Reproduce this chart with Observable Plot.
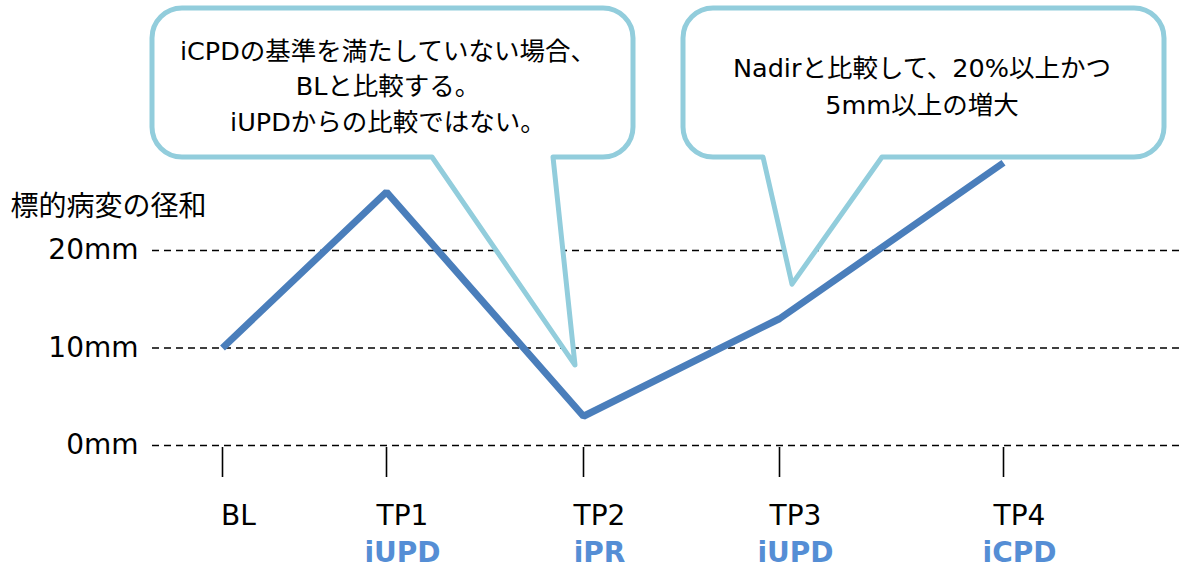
<!DOCTYPE html>
<html>
<head>
<meta charset="utf-8">
<script src="https://cdn.jsdelivr.net/npm/d3@7"></script>
<script src="https://cdn.jsdelivr.net/npm/@observablehq/plot@0.6"></script>
<style>
html, body { margin: 0; padding: 0; background: #fff; overflow: hidden; }
#chart svg { display: block; }
</style>
</head>
<body>
<div id="chart"></div>
<script>
// ---- data ----
const timepoints = ["BL", "TP1", "TP2", "TP3", "TP4"];
const responses = ["", "iUPD", "iPR", "iUPD", "iCPD"];
const sumDiameters = [10, 26, 3, 13, 29];
const yTicks = [0, 10, 20];
const yTickLabels = ["0mm", "10mm", "20mm"];
const yTitle = "標的病変の径和";
const calloutBaselineLines = ["iCPDの基準を満たしていない場合、", "BLと比較する。", "iUPDからの比較ではない。"];
const calloutNadirLines = ["Nadirと比較して、20%以上かつ", "5mm以上の増大"];

// ---- style / layout ----
const FONT = '"DejaVu Sans", "Noto Sans CJK JP", sans-serif';
const LINE_COLOR = "#4A7EBB";
const CALLOUT_COLOR = "#92CDDC";
const RESPONSE_COLOR = "#558ED5";

const callouts = [
  {lines: calloutBaselineLines, box: [152, 8, 633, 157], base: [432, 553], radius: 30,
   anchor: "TP2", tipDx: -8, tipValue: 8.2, cx: 388, cy0: 51, gap: 35.5},
  {lines: calloutNadirLines, box: [683, 8, 1164, 157], base: [763, 882], radius: 30,
   anchor: "TP3", tipDx: 13, tipValue: 16.5, cx: 922, cy0: 68, gap: 37}
];

const data = timepoints.map((t, i) => ({i, t, r: responses[i], v: sumDiameters[i]}));

function drawCallouts(index, scales) {
  const g = d3.create("svg:g");
  for (const c of callouts) {
    const [x0, y0, x1, y1] = c.box;
    const r = c.radius;
    const tx = scales.x(timepoints.indexOf(c.anchor)) + c.tipDx;
    const ty = scales.y(c.tipValue);
    const d = `M${x0 + r},${y0}H${x1 - r}A${r},${r} 0 0 1 ${x1},${y0 + r}V${y1 - r}` +
      `A${r},${r} 0 0 1 ${x1 - r},${y1}H${c.base[1]}L${tx},${ty}L${c.base[0]},${y1}H${x0 + r}` +
      `A${r},${r} 0 0 1 ${x0},${y1 - r}V${y0 + r}A${r},${r} 0 0 1 ${x0 + r},${y0}Z`;
    g.append("path").attr("d", d).attr("fill", "#fff").attr("stroke", CALLOUT_COLOR)
      .attr("stroke-width", 5).attr("stroke-linejoin", "round");
    const t = g.append("text").attr("text-anchor", "middle").attr("font-size", 25.5)
      .attr("fill", "#000").attr("font-family", FONT);
    c.lines.forEach((line, k) => {
      t.append("tspan").attr("x", c.cx).attr("y", c.cy0 + k * c.gap).attr("dy", "0.35em").text(line);
    });
  }
  return g.node();
}

const chart = Plot.plot({
  width: 1182,
  height: 570,
  marginLeft: 152,
  marginRight: 0,
  marginTop: 0,
  marginBottom: 123,
  style: {fontFamily: FONT, background: "#fff", overflow: "visible"},
  x: {type: "linear", domain: [0, 1, 2, 3, 4], range: [222, 386, 583, 779, 1003]},
  y: {type: "linear", domain: [0, 20], range: [445, 250]},
  marks: [
    Plot.gridY(yTicks, {stroke: "#000", strokeOpacity: 1, strokeWidth: 1.6, strokeDasharray: "7,5"}),
    Plot.axisY(yTicks, {
      tickSize: 0, tickPadding: 14, fontSize: 28, fill: "#000", label: null,
      tickFormat: d => yTickLabels[yTicks.indexOf(d)]
    }),
    Plot.axisX(data.map(d => d.i), {
      tickSize: 30, tickFormat: () => "", label: null, stroke: "#000", strokeWidth: 1.6
    }),
    Plot.text([yTitle], {
      text: d => d, frameAnchor: "top-left", dx: -142, dy: 207,
      textAnchor: "start", lineAnchor: "middle", fontSize: 28, fill: "#000"
    }),
    Plot.line(data, {
      x: "i", y: "v", stroke: LINE_COLOR, strokeWidth: 7,
      strokeLinejoin: "miter", strokeLinecap: "butt"
    }),
    Plot.text(data, {
      x: "i", text: "t", frameAnchor: "bottom", dx: 16, dy: 77,
      fontSize: 28, fill: "#000"
    }),
    Plot.text(data.filter(d => d.r), {
      x: "i", text: "r", frameAnchor: "bottom", dx: 16, dy: 114,
      fontSize: 28, fontWeight: "bold", fill: RESPONSE_COLOR
    }),
    drawCallouts
  ]
});

document.getElementById("chart").appendChild(chart);
</script>
</body>
</html>
